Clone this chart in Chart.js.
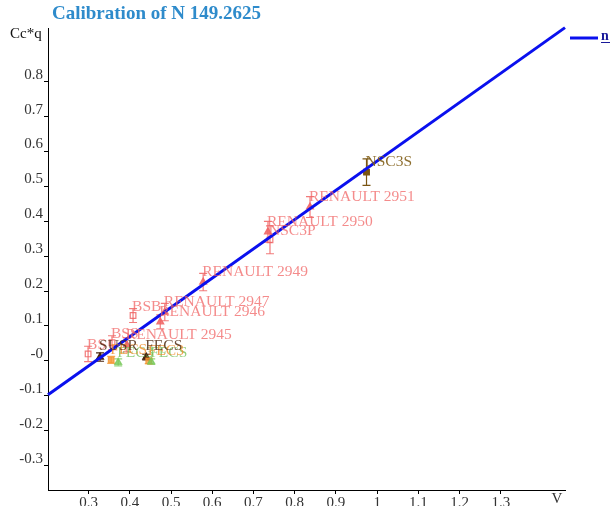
<!DOCTYPE html>
<html>
<head>
<meta charset="utf-8">
<script src="https://cdn.jsdelivr.net/npm/chart.js@4/dist/chart.umd.min.js"></script>
<style>
  html, body { margin: 0; padding: 0; background: #fff; }
  #wrap { width: 613px; height: 506px; }
</style>
</head>
<body>
<div id="wrap"><canvas id="c" width="613" height="506"></canvas></div>
<script>
// RENAULT samples (triangles)
const renaultNames = ['RENAULT 2951', 'RENAULT 2950', 'RENAULT 2949', 'RENAULT 2947', 'RENAULT 2946', 'RENAULT 2945'];
const renaultX     = [0.837, 0.735, 0.578, 0.485, 0.474, 0.393];
const renaultY     = [0.441, 0.370, 0.226, 0.140, 0.112, 0.046];
const renaultErr   = [0.030, 0.030, 0.025, 0.025, 0.020, 0.020];

// Other pink samples (open squares)
const bsNames = ['NSC3P', 'BSB', 'BSS', 'BS'];
const bsX     = [0.740, 0.408, 0.357, 0.299];
const bsY     = [0.347, 0.130, 0.052, 0.020];
const bsErr   = [0.040, 0.020, 0.020, 0.022];

// Brown samples
const nscNames = ['NSC3S'];
const nscX     = [0.974];
const nscY     = [0.541];
const nscErr   = [0.038];

const susNames = ['SUSR', 'FECS'];
const susX     = [0.328, 0.440];
const susY     = [0.011, 0.011];
const susErr   = [0.012, 0.008];

// Orange / green samples at the low end
const fecNames = ['FECS', 'FEC3'];
const fecX     = [0.355, 0.446];
const fecY     = [0.003, 0.000];
const fecErr   = [0.010, 0.008];

const fec3Names = ['FEC3', 'FECS'];
const fec3X     = [0.372, 0.452];
const fec3Y     = [-0.004, -0.002];
const fec3Err   = [0.010, 0.008];

// Fitted calibration line "n" (end points)
const fitX = [0.2018, 1.4552];
const fitY = [-0.097, 0.955];

// Axis ticks
const yTicks      = [0.8, 0.7, 0.6, 0.5, 0.4, 0.3, 0.2, 0.1, 0, -0.1, -0.2, -0.3];
const yTickLabels = ['0.8', '0.7', '0.6', '0.5', '0.4', '0.3', '0.2', '0.1', '-0', '-0.1', '-0.2', '-0.3'];
const xTicks      = [0.3, 0.4, 0.5, 0.6, 0.7, 0.8, 0.9, 1, 1.1, 1.2, 1.3];
const xTickLabels = ['0.3', '0.4', '0.5', '0.6', '0.7', '0.8', '0.9', '1', '1.1', '1.2', '1.3'];

const SERIF = "'Liberation Serif', 'DejaVu Serif', serif";

function pts(xs, ys) { return xs.map((x, i) => ({ x: x, y: ys[i] })); }

function series(names, xs, ys, errs, style) {
  return Object.assign({
    type: 'scatter',
    data: pts(xs, ys),
    names: names,
    errs: errs,
    borderWidth: 1.2,
    pointRadius: 4,
    pointHoverRadius: 4
  }, style);
}

const datasets = [
  {
    type: 'line',
    label: 'n',
    data: pts(fitX, fitY),
    borderColor: '#0a10ee',
    borderWidth: 3,
    pointRadius: 0,
    fill: false,
    clip: false,
    names: null
  },
  series(fec3Names, fec3X, fec3Y, fec3Err, {
    pointStyle: 'triangle', backgroundColor: 'rgba(120,200,90,0.8)', borderColor: 'rgba(120,200,90,0.8)',
    textColor: 'rgba(110,190,80,0.75)', textDy: -9
  }),
  series(fecNames, fecX, fecY, fecErr, {
    pointStyle: 'rect', backgroundColor: 'rgba(245,150,50,0.8)', borderColor: 'rgba(245,150,50,0.8)',
    textColor: 'rgba(240,140,40,0.8)', textDy: -10
  }),
  series(bsNames, bsX, bsY, bsErr, {
    pointStyle: 'rect', backgroundColor: 'rgba(255,255,255,0)', borderColor: 'rgba(240,100,100,0.85)',
    textColor: 'rgba(240,100,100,0.75)', textDy: -9
  }),
  series(renaultNames, renaultX, renaultY, renaultErr, {
    pointStyle: 'triangle', backgroundColor: 'rgba(240,100,100,0.85)', borderColor: 'rgba(240,100,100,0.85)',
    textColor: 'rgba(240,100,100,0.75)', textDy: -10
  }),
  series(susNames, susX, susY, susErr, {
    pointStyle: 'triangle', backgroundColor: '#4a2410', borderColor: '#4a2410',
    textColor: 'rgba(80,45,20,0.85)', textDy: -11
  }),
  series(nscNames, nscX, nscY, nscErr, {
    pointStyle: 'rect', backgroundColor: '#7a5512', borderColor: '#7a5512',
    textColor: 'rgba(130,95,25,0.9)', textDy: -10
  })
];

// Error bars under the markers, names next to them, plus title / legend text
const decorations = {
  id: 'decorations',
  beforeDatasetsDraw(chart) {
    const ctx = chart.ctx;
    const ys = chart.scales.y, xs = chart.scales.x;
    chart.data.datasets.forEach(ds => {
      if (!ds.errs) return;
      ctx.save();
      ctx.strokeStyle = ds.borderColor;
      ctx.lineWidth = 1.2;
      ds.data.forEach((p, i) => {
        const px = xs.getPixelForValue(p.x);
        const top = ys.getPixelForValue(p.y + ds.errs[i]);
        const bot = ys.getPixelForValue(p.y - ds.errs[i]);
        ctx.beginPath();
        ctx.moveTo(px, top); ctx.lineTo(px, bot);
        ctx.moveTo(px - 4, top); ctx.lineTo(px + 4, top);
        ctx.moveTo(px - 4, bot); ctx.lineTo(px + 4, bot);
        ctx.stroke();
      });
      ctx.restore();
    });
  },
  afterDatasetsDraw(chart) {
    const ctx = chart.ctx;
    const ys = chart.scales.y, xs = chart.scales.x;
    ctx.save();
    ctx.font = '15.5px ' + SERIF;
    ctx.textAlign = 'left';
    ctx.textBaseline = 'middle';
    chart.data.datasets.forEach(ds => {
      if (!ds.names) return;
      ctx.fillStyle = ds.textColor;
      ds.data.forEach((p, i) => {
        const px = xs.getPixelForValue(p.x);
        const py = ys.getPixelForValue(p.y);
        ctx.fillText(ds.names[i], px - 1, py + ds.textDy);
      });
    });
    ctx.restore();
  },
  afterDraw(chart) {
    const ctx = chart.ctx;
    ctx.save();
    // title
    ctx.font = 'bold 19px ' + SERIF;
    ctx.fillStyle = '#2e8bcb';
    ctx.textAlign = 'left';
    ctx.textBaseline = 'middle';
    ctx.fillText('Calibration of N 149.2625', 52, 14);
    // axis names
    ctx.font = '15px ' + SERIF;
    ctx.fillStyle = '#111';
    ctx.fillText('Cc*q', 10, 34);
    ctx.fillStyle = '#333';
    ctx.textAlign = 'center';
    ctx.fillText('V', 557, 499);
    // legend
    const fit = chart.data.datasets[0];
    ctx.strokeStyle = fit.borderColor;
    ctx.lineWidth = 3;
    ctx.beginPath();
    ctx.moveTo(570, 38); ctx.lineTo(598, 38);
    ctx.stroke();
    ctx.font = 'bold 14px ' + SERIF;
    ctx.fillStyle = '#1a1a9a';
    ctx.textAlign = 'left';
    ctx.fillText(fit.label, 601, 36);
    ctx.strokeStyle = '#1a1a9a';
    ctx.lineWidth = 1;
    ctx.beginPath();
    ctx.moveTo(601, 42.5); ctx.lineTo(610, 42.5);
    ctx.stroke();
    ctx.restore();
  }
};

new Chart(document.getElementById('c'), {
  data: { datasets: datasets },
  options: {
    responsive: false,
    animation: false,
    devicePixelRatio: 1,
    layout: { padding: { left: 0, right: 48, top: 28, bottom: 0 } },
    plugins: { legend: { display: false }, tooltip: { enabled: false }, title: { display: false } },
    scales: {
      x: {
        type: 'linear',
        min: 0.2018, max: 1.4552,
        afterFit(scale) { scale.height = 16; },
        afterBuildTicks(scale) { scale.ticks = xTicks.map(v => ({ value: v })); },
        border: { color: '#000', width: 1 },
        grid: { drawOnChartArea: false, drawTicks: true, tickLength: 4, color: '#000' },
        ticks: {
          autoSkip: false, maxRotation: 0, padding: 0, color: '#333',
          font: { family: SERIF, size: 15 },
          callback: (v, i) => xTickLabels[i]
        }
      },
      y: {
        type: 'linear',
        min: -0.37, max: 0.954,
        afterFit(scale) { scale.width = 48; },
        afterBuildTicks(scale) { scale.ticks = yTicks.map(v => ({ value: v })); },
        border: { color: '#000', width: 1 },
        grid: { drawOnChartArea: false, drawTicks: true, tickLength: 4, color: '#000' },
        ticks: {
          autoSkip: false, padding: 1, color: '#333', labelOffset: -7,
          font: { family: SERIF, size: 15 },
          callback: (v, i) => yTickLabels[i]
        }
      }
    }
  },
  plugins: [decorations]
});
</script>
</body>
</html>
